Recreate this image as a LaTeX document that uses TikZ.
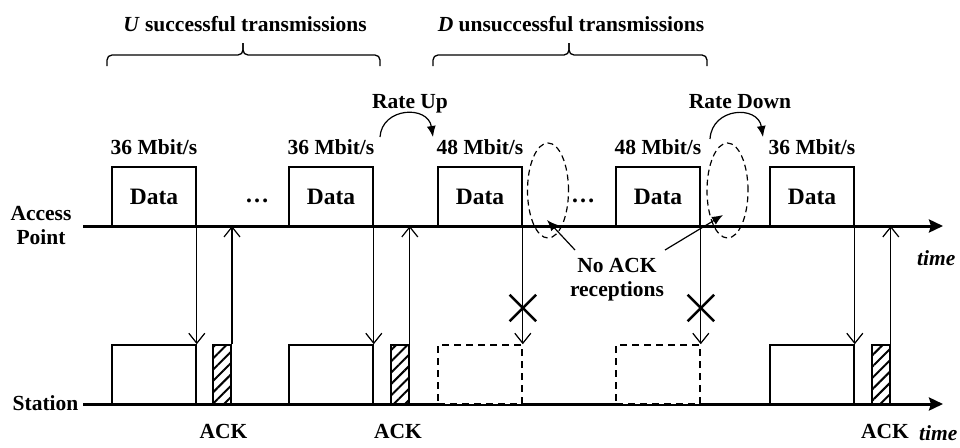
\documentclass[tikz,border=0pt]{standalone}
\usepackage{fontspec}
\setmainfont{Liberation Serif}
\usetikzlibrary{arrows.meta,shapes.geometric,shapes.misc,patterns.meta}

\begin{document}
\begin{tikzpicture}[x=1pt,y=-1pt,
  lbl/.style={font=\fontsize{21.5}{24}\selectfont\bfseries, inner sep=0pt},
  axisline/.style={line width=3pt, -{Stealth[length=14pt,width=13pt,inset=2pt]}},
  frame/.style={draw, line width=1.6pt, minimum width=84pt, minimum height=59pt, inner sep=0pt,
                font=\fontsize{23.5}{26}\selectfont\bfseries},
  lost/.style={frame, fill=white, dash pattern=on 7pt off 5pt},
  ackbox/.style={draw, line width=1.6pt, minimum width=18pt, minimum height=59pt, inner sep=0pt,
                 pattern={Lines[angle=45,distance=8pt,line width=2pt]}},
  sig/.style={line width=1.2pt, -{Straight Barb[length=10pt,width=16pt]}},
  pointer/.style={line width=1.2pt, -{Latex[length=11pt,width=9pt]}},
  bracepart/.style={line width=1.3pt, rounded corners=5pt},
  miss/.style={cross out, draw, line width=2.5pt, minimum size=24pt, inner sep=0pt},
  halo/.style={ellipse, draw, line width=1.2pt, dash pattern=on 6pt off 4pt,
               minimum width=41pt, minimum height=95pt, inner sep=0pt},
  ellip/.style={lbl, font=\fontsize{24}{26}\selectfont\bfseries}
]
\useasboundingbox (0,0) rectangle (960,447);

% time axes
\coordinate (ap0) at (83,226);
\coordinate (ap1) at (943,226);
\coordinate (st0) at (83,404);
\coordinate (st1) at (943,404);
\draw[axisline] (ap0) -- (ap1);
\draw[axisline] (st0) -- (st1);

% axis labels
\node[lbl, align=center] (aplabel) at (41,225.5) {Access\\Point};
\node[lbl, anchor=base] (stlabel) at (45.5,410) {Station};
\node[lbl, anchor=base west, font=\fontsize{21.5}{24}\selectfont\bfseries\itshape] (time1) at (917,265) {time};
\node[lbl, anchor=base west, font=\fontsize{21.5}{24}\selectfont\bfseries\itshape] (time2) at (919,440) {time};

% data frames sent by the access point
\node[frame] (d1) at (154,196.5) {Data};
\node[frame] (d2) at (331,196.5) {Data};
\node[frame] (d3) at (480,196.5) {Data};
\node[frame] (d4) at (658,196.5) {Data};
\node[frame] (d5) at (812,196.5) {Data};

\node[ellip, anchor=base] (dots1) at (257,202) {\ldots};
\node[ellip, anchor=base] (dots2) at (583,202) {\ldots};

% rates
\node[lbl, anchor=base] (r1) at ([yshift=12pt]d1.north) {36 Mbit/s};
\node[lbl, anchor=base] (r2) at ([yshift=12pt]d2.north) {36 Mbit/s};
\node[lbl, anchor=base] (r3) at ([yshift=12pt]d3.north) {48 Mbit/s};
\node[lbl, anchor=base] (r4) at ([yshift=12pt]d4.north) {48 Mbit/s};
\node[lbl, anchor=base] (r5) at ([yshift=12pt]d5.north) {36 Mbit/s};

% frames at the station
\node[frame] (s1) at (154,374.5) {};
\node[frame] (s2) at (331,374.5) {};
\node[lost]  (s3) at (480,374.5) {};
\node[lost]  (s4) at (658,374.5) {};
\node[frame] (s5) at (812,374.5) {};

\node[ackbox] (a1) at (222,374.5) {};
\node[ackbox] (a2) at (400,374.5) {};
\node[ackbox] (a5) at (881,374.5) {};

\node[lbl, anchor=base] (ack1) at (223.5,438) {ACK};
\node[lbl, anchor=base] (ack2) at (398,438) {ACK};
\node[lbl, anchor=base] (ack5) at (885,438) {ACK};

% data and acknowledgement signals
\draw[sig] (d1.south east) -- (s1.north east);
\draw[sig] (d2.south east) -- (s2.north east);
\draw[sig] (d3.south east) -- (s3.north east);
\draw[sig] (d4.south east) -- (s4.north east);
\draw[sig] (d5.south east) -- (s5.north east);
\draw[sig] (a1.north east) -- (a1.north east |- ap0);
\draw[sig] (a2.north east) -- (a2.north east |- ap0);
\draw[sig] (a5.north east) -- (a5.north east |- ap0);

% lost acknowledgements
\node[miss] (x3) at (d3.south east |- 0,308) {};
\node[miss] (x4) at (d4.south east |- 0,308) {};
\node[halo] (h3) at (548,190.5) {};
\node[halo] (h4) at (727.5,190.5) {};

\node[lbl, align=center] (noack) at (617,280) {No ACK\\receptions};
\coordinate (q3) at (575,250);
\coordinate (t3) at (547,220);
\coordinate (q4) at (665,250);
\coordinate (t4) at (723,215);
\draw[pointer] (q3) -- (t3);
\draw[pointer] (q4) -- (t4);

% rate changes
\node[lbl, anchor=base] (up) at (410,108) {Rate Up};
\node[lbl, anchor=base] (down) at (740,108) {Rate Down};
\coordinate (up0) at (380,137);
\coordinate (up1) at (433,137);
\coordinate (dn0) at (710,139);
\coordinate (dn1) at (763,137);
\draw[pointer] (up0) .. controls (382,107) and (428,105) .. (up1);
\draw[pointer] (dn0) .. controls (712,107) and (758,105) .. (dn1);

% braces and their headings
\node[lbl, anchor=base] (uhead) at (245,31) {\textit{U} successful transmissions};
\node[lbl, anchor=base] (dhead) at (571,31) {\textit{D} unsuccessful transmissions};
\coordinate (bu0) at (107,66);
\coordinate (bu1) at (380,66);
\coordinate (butip) at (243,43);
\coordinate (bd0) at (433,66);
\coordinate (bd1) at (707,66);
\coordinate (bdtip) at (569,43);
\draw[bracepart] (bu0) -- (107,55) -- (butip |- 0,55) -- (butip);
\draw[bracepart] (butip) -- (butip |- 0,55) -- (380,55) -- (bu1);
\draw[bracepart] (bd0) -- (433,55) -- (bdtip |- 0,55) -- (bdtip);
\draw[bracepart] (bdtip) -- (bdtip |- 0,55) -- (707,55) -- (bd1);
\end{tikzpicture}
\end{document}
